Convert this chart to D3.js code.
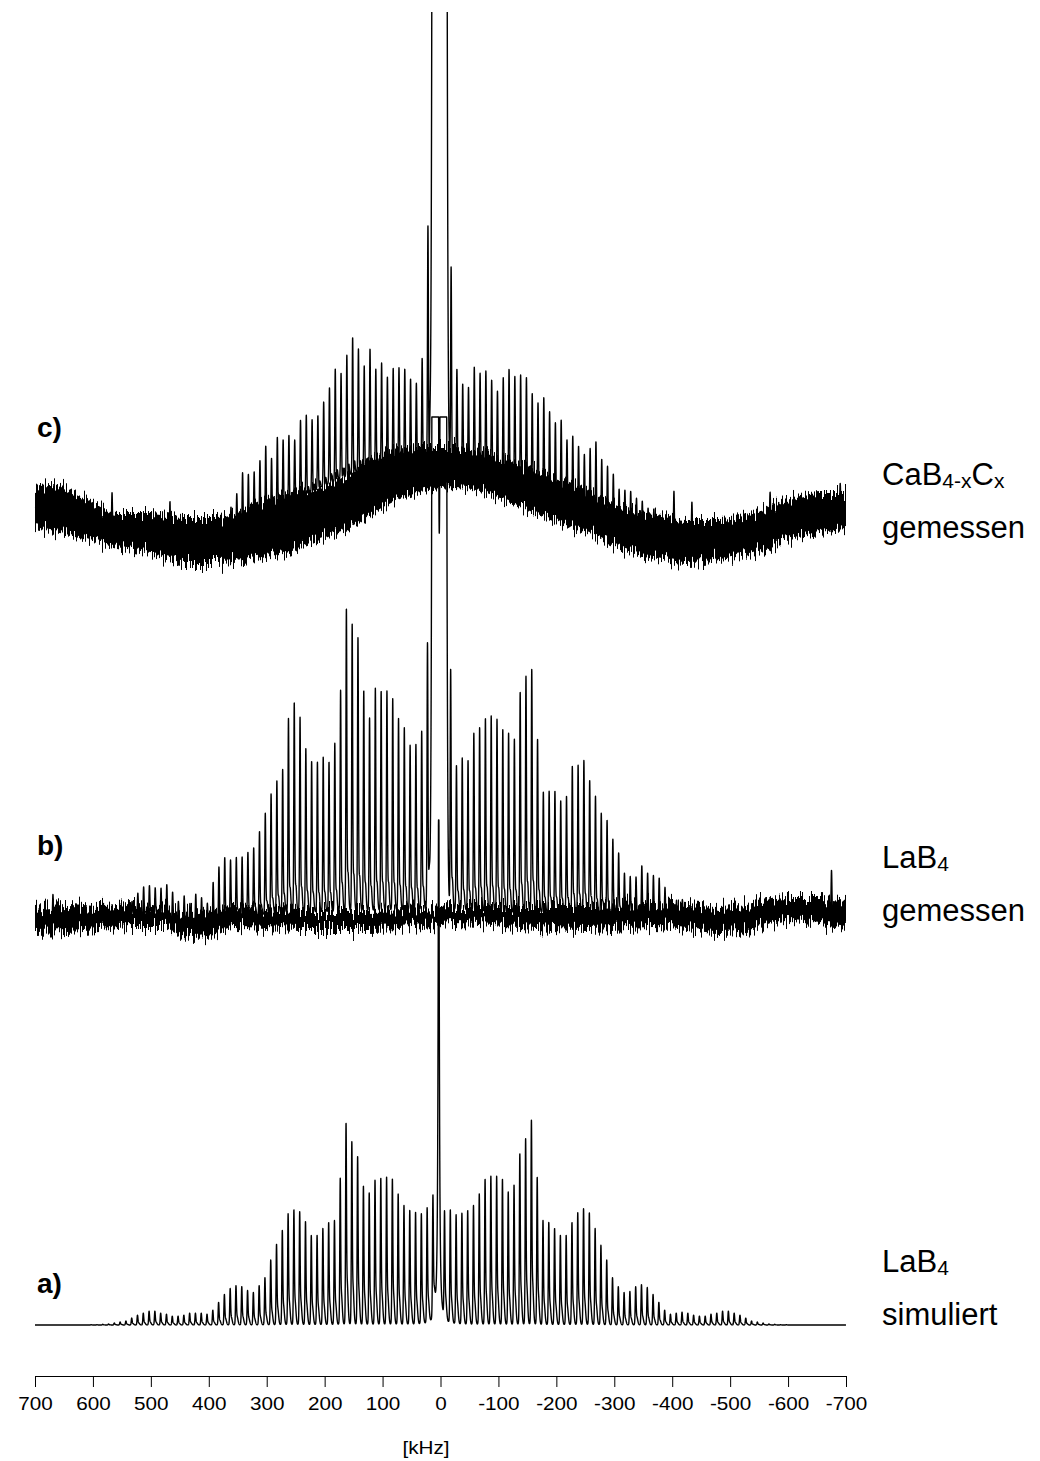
<!DOCTYPE html>
<html>
<head>
<meta charset="utf-8">
<script src="https://cdn.jsdelivr.net/npm/d3@7"></script>
<style>
  body { margin: 0; background: #fff; }
  svg { display: block; }
  text { font-family: "Liberation Sans", Arial, sans-serif; fill: #000; }
</style>
</head>
<body>
<svg id="chart" width="1040" height="1461"></svg>
<script>
// ---- frequency axis (kHz) ----
const tickValues = [700, 600, 500, 400, 300, 200, 100, 0, -100, -200, -300, -400, -500, -600, -700];

// spinning sidebands are spaced by the MAS rate
const spinningRate = 10.0; // kHz

// ---- a) LaB4, simulated: sideband intensities, order n = 1..60 ----
const simPos = [124, 117, 112, 114, 116, 121, 133, 148, 150, 149, 147, 134, 141, 171, 186, 205, 149, 106, 104, 98,
  91, 91, 105, 115, 117, 113, 96, 82, 66, 48, 40, 33, 35, 39, 40, 37, 31, 23, 15, 11,
  12, 12, 12, 10, 9, 9, 11, 12, 14, 14, 12, 10, 7, 4, 3, 2, 1, 0.7, 0.3, 0.3];
const simNeg = [108, 115, 111, 113, 116, 121, 133, 148, 151, 151, 148, 135, 142, 174, 189, 208, 150, 106, 104, 98,
  91, 91, 104, 114, 118, 114, 98, 81, 66, 48, 39, 33, 34, 39, 41, 38, 31, 23, 15, 11,
  12, 13, 12, 10, 9, 9, 11, 12, 14, 14, 12, 10, 7, 4, 3, 2, 1, 0.7, 0.3, 0.3];
const simCentralKHz = [3.1];
const simCentralHeight = [560];
const simCentralWidth = [1.2];

// ---- b) LaB4, measured ----
const labPos = [0, 272, 182, 169, 168, 186, 196, 216, 224, 224, 227, 197, 225, 279, 293, 309, 226, 172, 153, 158,
  153, 154, 167, 199, 214, 198, 146, 135, 122, 103, 85, 69, 65, 61, 61, 59, 64, 57, 44, 24,
  29, 32, 22, 28, 21, 29, 35, 30, 29, 30, 29, 23, 15, 10, 8, 6, 5, 4, 3, 2];
const labNeg = [0, 245, 147, 155, 153, 181, 187, 197, 200, 197, 187, 183, 177, 225, 241, 248, 177, 123, 124, 124,
  114, 119, 150, 151, 156, 136, 120, 103, 96, 77, 63, 43, 40, 40, 52, 45, 43, 41, 32, 20,
  20, 21, 12, 10, 10, 9, 9, 10, 10, 10, 8, 6, 5, 4, 3, 3, 2, 2, 1, 1];
const labCentralKHz = [9.2, -5.0];
const labCentralHeight = [3100, 3100];
const labCentralWidth = [3.0, 3.0];
const labBaseKHz = [700, 588, 501, 432, 398, 363, 277, 156, 35, -34, -103, -206, -310, -413, -465, -517, -586, -655, -700];
const labBaseLevel = [-7, -5, -2, -12, -14, -5, 0, 1, 3, 3, 0, 0, -2, -7, -9, -5, 1, 3, 0];
// noise floor envelope
const labNoiseKHz = [700, 645, 588, 531, 472, 432, 403, 358, 300, 243, 127, 30, -22, -137, -253, -367, -425, -482, -539, -598, -655, -700];
const labNoiseUpper = [5, 8, 6, 8, 5, 0, 3, 8, 5, 3, 3, 5, 8, 8, 8, 10, 8, 6, 10, 16, 16, 13];
const labNoiseLower = [-20, -19, -17, -14, -14, -25, -24, -14, -15, -17, -17, -14, -10, -14, -17, -14, -17, -20, -17, -7, -10, -14];
const labSpikeKHz = [669, -675];
const labSpikeHeight = [25, 41];

// ---- c) CaB4-xCx, measured ----
const cabPos = [0, 242, 107, 82, 87, 98, 100, 100, 92, 107, 102, 124, 108, 127, 140, 124, 108, 115, 98, 86,
  75, 74, 82, 80, 63, 71, 70, 76, 58, 74, 62, 53, 53, 57, 38, 27, 18, 15, 12, 10,
  10, 9, 9, 8, 8, 8, 8, 7, 7, 7, 6, 6, 5, 5, 4, 4, 3, 3, 2, 2];
const cabNeg = [0, 200, 97, 83, 81, 103, 98, 102, 95, 86, 102, 113, 108, 112, 112, 98, 91, 99, 87, 78,
  83, 65, 71, 63, 57, 66, 76, 61, 57, 52, 39, 39, 39, 33, 31, 25, 25, 14, 12, 12,
  11, 10, 10, 9, 9, 8, 8, 8, 7, 7, 6, 6, 5, 5, 4, 4, 3, 3, 2, 2];
const cabCentralKHz = [8.8, -5.4];
const cabCentralHeight = [4000, 4000];
const cabCentralWidth = [3.0, 3.0];
const cabBaseKHz = [700, 640, 553, 467, 415, 356, 306, 256, 205, 155, 105, 34, -20, -75, -132, -189, -248, -305, -362, -420, -477, -534, -593, -650, -700];
const cabBaseLevel = [-7, -13, -33, -45, -47, -32, -20, -3, 13, 25, 32, 37, 37, 30, 17, 3, -10, -27, -33, -37, -38, -30, -17, -10, -8];
const cabNoiseKHz = [700, 674, 617, 558, 501, 444, 386, 329, 272, 213, 156, 99, 41, -25, -80, -137, -194, -253, -310, -367, -425, -482, -539, -598, -655, -700];
const cabNoiseUpper = [13, 15, 3, -13, -13, -17, -17, -7, 7, 13, 27, 47, 53, 53, 47, 37, 23, 10, -7, -13, -20, -20, -13, 0, 7, 7];
const cabNoiseLower = [-27, -30, -37, -47, -53, -63, -63, -60, -53, -40, -27, -7, 7, 13, 7, -7, -20, -33, -47, -57, -63, -60, -53, -40, -33, -30];
const cabSpikeKHz = [567, 467, -403, -434, -569, -690];
const cabSpikeHeight = [37, 43, 44, 35, 28, 25];

// ---------------------------------------------------------------
const svg = d3.select("#chart");
const x = d3.scaleLinear().domain([700, -700]).range([35, 846]);
const pxPerKHz = Math.abs(x(1) - x(0));

const panels = [
  { label: "c)", labelY: 437, zeroY: 500, topY: 12, clamp: false,
    pos: cabPos, neg: cabNeg, centralKHz: cabCentralKHz, centralH: cabCentralHeight, centralW: cabCentralWidth, centralShape: "gauss",
    baseKHz: cabBaseKHz, baseLevel: cabBaseLevel,
    noiseKHz: cabNoiseKHz, noiseUp: cabNoiseUpper, noiseLo: cabNoiseLower,
    spikeKHz: cabSpikeKHz, spikeH: cabSpikeHeight,
    center: 1.7, dispersion: 0.2,
    names: [["CaB", ["4-x", "sub"], "C", ["x", "sub"]], ["gemessen"]], nameY: [485, 538] },
  { label: "b)", labelY: 855, zeroY: 913, topY: 417, clamp: true,
    pos: labPos, neg: labNeg, centralKHz: labCentralKHz, centralH: labCentralHeight, centralW: labCentralWidth, centralShape: "gauss",
    baseKHz: labBaseKHz, baseLevel: labBaseLevel,
    noiseKHz: labNoiseKHz, noiseUp: labNoiseUpper, noiseLo: labNoiseLower,
    spikeKHz: labSpikeKHz, spikeH: labSpikeHeight,
    center: 2.5, dispersion: 0.08,
    names: [["LaB", ["4", "sub"]], ["gemessen"]], nameY: [868, 921] },
  { label: "a)", labelY: 1293, zeroY: 1325, topY: 820, clamp: true,
    pos: simPos, neg: simNeg, centralKHz: simCentralKHz, centralH: simCentralHeight, centralW: simCentralWidth, centralShape: "lorentz",
    baseKHz: null, baseLevel: null, noiseKHz: null,
    spikeKHz: [], spikeH: [],
    center: 3.1, dispersion: 0,
    names: [["LaB", ["4", "sub"]], ["simuliert"]], nameY: [1272, 1325] }
];

const defs = svg.append("defs");
// clip region for the top spectrum (its central line runs off the page)
defs.append("clipPath").attr("id", "clipTop")
  .append("rect").attr("x", 0).attr("y", 12).attr("width", 1040).attr("height", 1449);

// grainy texture for the noise floor: columns are shifted vertically
const grain = defs.append("filter").attr("id", "grain")
  .attr("filterUnits", "userSpaceOnUse")
  .attr("x", 0).attr("y", 0).attr("width", 1040).attr("height", 1461)
  .attr("color-interpolation-filters", "sRGB");
grain.append("feTurbulence").attr("type", "fractalNoise")
  .attr("baseFrequency", "0.9 0.004").attr("numOctaves", 2).attr("seed", 7).attr("result", "turb");
grain.append("feColorMatrix").attr("in", "turb").attr("type", "matrix")
  .attr("values", "0 0 0 0 0.5  0 1 0 0 0  0 0 1 0 0  0 0 0 0 1").attr("result", "shift");
grain.append("feDisplacementMap").attr("in", "SourceGraphic").attr("in2", "shift")
  .attr("scale", 34).attr("xChannelSelector", "R").attr("yChannelSelector", "G");

// frequency samples for the traces
const freqs = d3.range(700, -700.0001, -0.12);

panels.forEach(p => {
  const H = p.zeroY - p.topY;
  const y = d3.scaleLinear().domain([-200, H]).range([p.zeroY + 200, p.topY]).clamp(p.clamp);
  const base = p.baseKHz ? d3.scaleLinear().domain(p.baseKHz).range(p.baseLevel) : () => 0;

  // sideband list
  const bands = [];
  p.pos.forEach((h, i) => bands.push({ f: p.center + (i + 1) * spinningRate, h }));
  p.neg.forEach((h, i) => bands.push({ f: p.center - (i + 1) * spinningRate, h }));

  const value = f => {
    let v = base(f);
    for (const b of bands) {
      const dx = (b.f - f) * pxPerKHz; // screen offset in px
      if (dx > 8 || dx < -8) continue;
      v += b.h * (0.85 * Math.exp(-0.5 * (dx / 0.42) ** 2)
                + 0.22 * Math.exp(-0.5 * ((dx - 1.0) / 1.0) ** 2)
                - p.dispersion * Math.exp(-0.5 * ((dx - 1.2) / 0.45) ** 2));
    }
    p.centralKHz.forEach((cf, i) => {
      const d = (f - cf) / p.centralW[i];
      v += p.centralShape === "lorentz"
        ? p.centralH[i] / (1 + d * d)
        : p.centralH[i] * Math.exp(-0.5 * d * d);
    });
    p.spikeKHz.forEach((sf, i) => {
      const dx = (sf - f) * pxPerKHz;
      if (Math.abs(dx) < 4) v += p.spikeH[i] * Math.exp(-0.5 * (dx / 0.4) ** 2);
    });
    return v;
  };

  const g = svg.append("g");
  if (!p.clamp) g.attr("clip-path", "url(#clipTop)");

  // noise floor of the measured spectra
  if (p.noiseKHz) {
    const band = d3.area()
      .x(i => x(p.noiseKHz[i]))
      .y0(i => y(p.noiseLo[i]))
      .y1(i => y(p.noiseUp[i]))
      .curve(d3.curveMonotoneX);
    g.append("path").attr("d", band(d3.range(p.noiseKHz.length)))
      .attr("fill", "#000").attr("filter", "url(#grain)");
  }

  const line = d3.line().x(f => x(f)).y(f => y(value(f)));
  g.append("path").attr("d", line(freqs))
    .attr("fill", "none").attr("stroke", "#000").attr("stroke-width", 1.4)
    .attr("stroke-linejoin", "round");

  // panel letter
  svg.append("text").attr("x", 37).attr("y", p.labelY)
    .attr("font-size", 28).attr("font-weight", "bold").text(p.label);

  // sample name
  p.names.forEach((parts, li) => {
    const t = svg.append("text").attr("x", 882).attr("y", p.nameY[li]).attr("font-size", 31);
    let sub = false;
    parts.forEach(part => {
      const isSub = Array.isArray(part);
      const s = isSub ? part[0] : part;
      const ts = t.append("tspan").text(s);
      if (isSub) { ts.attr("font-size", 21).attr("dy", sub ? 0 : 3); sub = true; }
      else { if (sub) ts.attr("dy", -3); sub = false; }
    });
  });
});

// ---- frequency axis ----
const axis = d3.axisBottom(x)
  .tickValues(tickValues)
  .tickFormat(d => String(d))
  .tickSize(11)
  .tickSizeOuter(0)
  .tickPadding(10);
const ax = svg.append("g").attr("transform", "translate(0,1376)").call(axis);
// tick labels are set slightly wide
ax.selectAll("text").attr("font-size", 18).attr("transform", "scale(1.15,1)")
  .style("font-family", "'Liberation Sans', Arial, sans-serif");
ax.selectAll("line,path").attr("stroke", "#000");

svg.append("text").attr("transform", "translate(426,1454) scale(1.15,1)")
  .attr("text-anchor", "middle").attr("font-size", 18).text("[kHz]");
</script>
</body>
</html>
